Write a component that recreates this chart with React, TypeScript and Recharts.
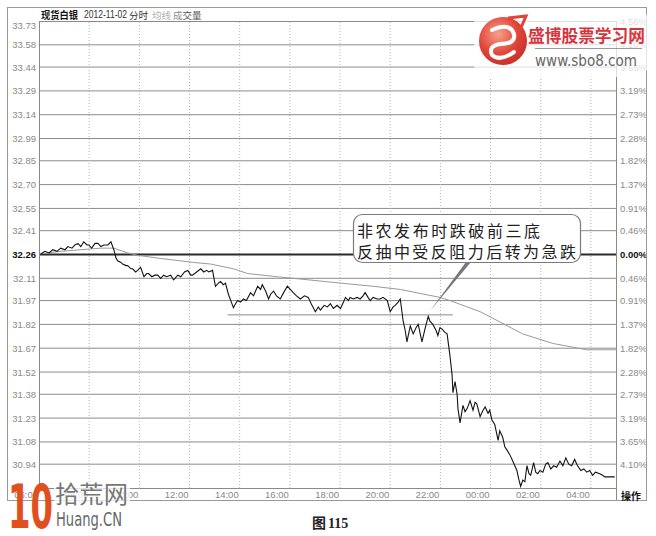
import React from 'react';
import { LineChart, Line, XAxis, YAxis, ReferenceLine } from 'recharts';

// ---- axis data ----
const basePrice = 32.26;
const priceTicks = [33.73, 33.58, 33.44, 33.29, 33.14, 32.99, 32.85, 32.7, 32.55, 32.41, 32.26, 32.11, 31.97, 31.82, 31.67, 31.52, 31.38, 31.23, 31.08, 30.94];
const pctLabels = ['4.56%', '4.10%', '3.65%', '3.19%', '2.73%', '2.28%', '1.82%', '1.37%', '0.91%', '0.46%', '0.00%', '0.46%', '0.91%', '1.37%', '1.82%', '2.28%', '2.73%', '3.19%', '3.65%', '4.10%'];
const priceDomain = [30.79, 33.73];
// minutes after 06:00
const timeTicks = [0, 120, 240, 360, 480, 600, 720, 840, 960, 1080, 1200, 1320];
const timeLabels = ['06:00', '08:00', '10:00', '12:00', '14:00', '16:00', '18:00', '20:00', '22:00', '00:00', '02:00', '04:00'];
const sessionLength = 1380;

// ---- price series (minutes after 06:00) ----
const priceTimes = [
  5, 14, 24, 33, 43, 52, 62, 69, 79, 86,
  93, 100, 107, 115, 119, 126, 134, 141, 148, 155,
  165, 172, 179, 184, 188, 196, 200, 208, 212, 220,
  224, 231, 236, 243, 251, 258, 262, 270, 277, 284,
  291, 298, 305, 315, 322, 332, 339, 348, 356, 363,
  367, 377, 387, 394, 401, 406, 415, 422, 429, 434,
  441, 446, 453, 460, 465, 470, 475, 482, 489, 496,
  506, 513, 523, 530, 534, 542, 549, 554, 561, 568,
  577, 585, 594, 601, 608, 616, 625, 635, 644, 651,
  661, 668, 673, 682, 690, 697, 704, 713, 721, 728,
  733, 740, 744, 752, 761, 768, 775, 780, 787, 792,
  799, 809, 816, 823, 833, 840, 847, 852, 859, 864,
  871, 876, 880, 888, 895, 902, 907, 911, 916, 923,
  931, 935, 942, 950, 954, 959, 964, 971, 976, 983,
  988, 990, 995, 1000, 1002, 1007, 1014, 1019, 1024, 1031,
  1038, 1043, 1047, 1055, 1062, 1067, 1074, 1078, 1083, 1090,
  1098, 1102, 1109, 1114, 1119, 1126, 1133, 1138, 1143, 1148,
  1152, 1157, 1162, 1167, 1172, 1176, 1183, 1188, 1193, 1198,
  1205, 1212, 1217, 1224, 1231, 1238, 1246, 1253, 1260, 1267,
  1274, 1281, 1288, 1296, 1303, 1310, 1317, 1324, 1331, 1341,
  1348, 1353, 1362, 1377,
];
const prices = [
  32.265, 32.28, 32.27, 32.29, 32.28, 32.3, 32.29, 32.31, 32.3, 32.32,
  32.33, 32.31, 32.34, 32.32, 32.32, 32.3, 32.33, 32.33, 32.31, 32.32,
  32.32, 32.34, 32.29, 32.24, 32.22, 32.21, 32.2, 32.19, 32.19, 32.17,
  32.17, 32.15, 32.16, 32.18, 32.12, 32.14, 32.14, 32.12, 32.13, 32.13,
  32.11, 32.13, 32.12, 32.13, 32.1, 32.13, 32.12, 32.15, 32.16, 32.13,
  32.13, 32.15, 32.17, 32.15, 32.16, 32.15, 32.16, 32.06, 32.08, 32.09,
  32.07, 32.08, 32.01, 31.96, 31.925, 31.95, 31.97, 31.96, 31.98, 31.97,
  32.02, 32.0, 32.06, 32.04, 32.07, 32.03, 31.98, 32.01, 32.03, 32.0,
  31.98, 32.02, 32.06, 32.04, 32.02, 32.0, 31.98, 32.0, 31.99, 31.95,
  31.9, 31.93, 31.91, 31.94, 31.93, 31.95, 31.92, 31.94, 31.92, 31.96,
  31.99, 31.97, 31.99, 31.98, 31.99, 31.98, 32.0, 32.02, 31.99, 31.97,
  31.99, 31.98, 31.98, 31.99, 31.97, 31.9, 31.93, 31.94, 31.96, 31.98,
  31.84, 31.78, 31.71, 31.81, 31.76, 31.8, 31.82, 31.77, 31.71, 31.79,
  31.87, 31.84, 31.82, 31.78, 31.75, 31.8, 31.79, 31.77, 31.76, 31.62,
  31.5, 31.39, 31.46, 31.38, 31.29, 31.2, 31.31, 31.27, 31.29, 31.34,
  31.28, 31.33, 31.32, 31.24, 31.28, 31.3, 31.26, 31.28, 31.22, 31.19,
  31.09, 31.15, 31.11, 31.05, 31.03, 31.0, 30.96, 30.93, 30.9, 30.84,
  30.8, 30.84, 30.83, 30.93, 30.88, 30.87, 30.95, 30.89, 30.88, 30.9,
  30.89, 30.94, 30.95, 30.91, 30.93, 30.92, 30.96, 30.93, 30.98, 30.94,
  30.93, 30.97, 30.93, 30.9, 30.91, 30.89, 30.9, 30.87, 30.89, 30.88,
  30.87, 30.86, 30.86, 30.86,
];

// ---- average price line ----
const avgTimes = [5, 52, 100, 148, 179, 212, 236, 291, 370, 410, 465, 499, 570, 608, 721, 799, 864, 959, 983, 1055, 1157, 1229, 1310, 1380];
const avgPrices = [32.265, 32.28, 32.29, 32.3, 32.3, 32.27, 32.255, 32.235, 32.21, 32.2, 32.17, 32.14, 32.12, 32.11, 32.08, 32.06, 32.04, 31.99, 31.97, 31.9, 31.76, 31.7, 31.66, 31.66];

// ---- support line ("前三底") ----
const supportLevel = 31.88;
const supportFrom = 451;
const supportTo = 990;

const calloutLines = ['非农发布时跌破前三底', '反抽中受反阻力后转为急跌'];

const priceData = priceTimes.map((t, i) => ({ t, p: prices[i] }));
const avgData = avgTimes.map((t, i) => ({ t, a: avgPrices[i] }));

const AXIS_FONT = '"Liberation Sans", Arial, sans-serif';
const CJK_FONT = '"Noto Sans CJK SC", "Noto Sans", sans-serif';

const LeftTick = (props: any) => {
  const { x, y, payload } = props;
  const v = payload.value as number;
  const isBase = Math.abs(v - basePrice) < 0.001;
  const dy = v === priceTicks[0] ? 4 : 0;
  return (
    <text x={x} y={y + dy} textAnchor="end" dominantBaseline="central" fontSize={9.5}
      fontFamily={AXIS_FONT} fill={isBase ? '#111' : '#8a8a8a'} fontWeight={isBase ? 'bold' : 'normal'}>
      {v.toFixed(2)}
    </text>
  );
};

const RightTick = (props: any) => {
  const { x, y, payload } = props;
  const v = payload.value as number;
  const idx = priceTicks.indexOf(v);
  const isBase = Math.abs(v - basePrice) < 0.001;
  return (
    <text x={x} y={y} textAnchor="start" dominantBaseline="central" fontSize={9.5}
      fontFamily={AXIS_FONT} fill={isBase ? '#111' : '#8a8a8a'} fontWeight={isBase ? 'bold' : 'normal'}>
      {pctLabels[idx]}
    </text>
  );
};

const TimeTick = (props: any) => {
  const { x, y, payload } = props;
  const idx = timeTicks.indexOf(payload.value);
  return (
    <text x={x - 1} y={y + 6} textAnchor="end" dominantBaseline="central" fontSize={9.5}
      fontFamily={AXIS_FONT} fill="#888">
      {timeLabels[idx]}
    </text>
  );
};

export default function App() {
  return (
    <div style={{ position: 'absolute', left: 0, top: 0, width: 656, height: 536, background: '#fff', overflow: 'hidden' }}>
      <div style={{ position: 'absolute', left: 0, top: 0 }}>
        <LineChart width={656} height={536} margin={{ top: 21, right: 0, bottom: 0, left: 0 }}>
          <XAxis dataKey="t" type="number" domain={[0, sessionLength]} ticks={timeTicks}
            axisLine={false} tickLine={false} tickSize={0} tickMargin={0} height={48}
            tick={<TimeTick />} interval={0} allowDataOverflow />
          <YAxis yAxisId="l" orientation="left" type="number" domain={priceDomain} ticks={priceTicks}
            width={39} axisLine={false} tickLine={false} tickSize={0} tickMargin={3}
            tick={<LeftTick />} interval={0} allowDataOverflow />
          <YAxis yAxisId="r" orientation="right" type="number" domain={priceDomain} ticks={priceTicks}
            width={40} axisLine={false} tickLine={false} tickSize={0} tickMargin={4}
            tick={<RightTick />} interval={0} allowDataOverflow />
          {priceTicks.filter((v) => v !== basePrice && v !== priceTicks[0]).map((v) => (
            <ReferenceLine key={'h' + v} yAxisId="l" y={v} stroke="#8c8c8c" strokeWidth={1} />
          ))}
          {timeTicks.slice(1).map((t) => (
            <ReferenceLine key={'v' + t} yAxisId="l" x={t} stroke="#b5b5b5" strokeWidth={1} strokeDasharray="1 2" />
          ))}
          <ReferenceLine yAxisId="l" y={basePrice} stroke="#2a2a2a" strokeWidth={1.8} />
          <ReferenceLine yAxisId="l" segment={[{ x: supportFrom, y: supportLevel }, { x: supportTo, y: supportLevel }]}
            stroke="#8a8a8a" strokeWidth={1} />
          <Line yAxisId="r" data={avgData} dataKey="a" type="linear" stroke="#9a9a9a" strokeWidth={1}
            dot={false} isAnimationActive={false} />
          <Line yAxisId="l" data={priceData} dataKey="p" type="linear" stroke="#141414" strokeWidth={1.1}
            dot={false} isAnimationActive={false} />
        </LineChart>
      </div>
      <svg width={656} height={536} style={{ position: 'absolute', left: 0, top: 0, pointerEvents: 'none' }}>
        {/* frames */}
        <rect x={7.5} y={7.5} width={639} height={493} fill="none" stroke="#9a9a9a" strokeWidth={1} />
        <rect x={39.5} y={21.5} width={577} height={467} fill="none" stroke="#8a8a8a" strokeWidth={1} />
        <line x1={616.5} y1={488} x2={616.5} y2={500} stroke="#8a8a8a" />
        <text x={631} y={495} textAnchor="middle" dominantBaseline="central" fontSize={10} fontWeight="bold"
          fontFamily={CJK_FONT} fill="#111">操作</text>
        {/* title */}
        <text x={41} y={14.5} dominantBaseline="central" fontSize={10} fontWeight="bold" fontFamily={CJK_FONT}
          fill="#111" textLength={37} lengthAdjust="spacingAndGlyphs">现货白银</text>
        <text x={84} y={14.5} dominantBaseline="central" fontSize={10} fontFamily={AXIS_FONT}
          fill="#333" textLength={43} lengthAdjust="spacingAndGlyphs">2012-11-02</text>
        <text x={129} y={14.5} dominantBaseline="central" fontSize={9.5} fontFamily={CJK_FONT} fill="#333">分时</text>
        <text x={152} y={14.5} dominantBaseline="central" fontSize={9.5} fontFamily={CJK_FONT} fill="#b0b0b0">均线</text>
        <text x={173} y={14.5} dominantBaseline="central" fontSize={9.5} fontFamily={CJK_FONT} fill="#555">
          <tspan fill="#8a8a8a">成</tspan>交量
        </text>
        {/* callout */}
        <path d="M 466 262 L 471 262 L 430 311 Z" fill="#777" />
        <rect x={353.5} y={214.5} width={227} height={48} rx={9} ry={9} fill="#fff" stroke="#7a7a7a" strokeWidth={1.2} />
        <text x={357} y={230} dominantBaseline="central" fontSize={16} fontFamily={CJK_FONT} fill="#222"
          textLength={183} lengthAdjust="spacing">{calloutLines[0]}</text>
        <text x={357} y={250.5} dominantBaseline="central" fontSize={16} fontFamily={CJK_FONT} fill="#222"
          textLength={219} lengthAdjust="spacing">{calloutLines[1]}</text>
        {/* top-right watermark */}
        <defs>
          <radialGradient id="lg" cx="0.4" cy="0.35" r="0.7">
            <stop offset="0" stopColor="#f7a08a" />
            <stop offset="0.6" stopColor="#e0443a" />
            <stop offset="1" stopColor="#c72f2c" />
          </radialGradient>
        </defs>
        <rect x={474} y={9} width={174} height={68} rx={12} fill="#fff" fillOpacity={0.72} />
        <circle cx={503} cy={41} r={24} fill="url(#lg)" />
        <path d="M 492 30 Q 510 22 514 34 Q 516 44 500 44 Q 488 46 492 55 Q 500 62 514 52"
          fill="none" stroke="#fff" strokeWidth={4} strokeLinecap="round" />
        <path d="M 508 18 L 526 16 L 520 30" fill="none" stroke="#e0443a" strokeWidth={3} />
        <text x={528} y={42} fontSize={17} fontWeight="bold" fontFamily={CJK_FONT} fill="#d8343c"
          textLength={117} lengthAdjust="spacingAndGlyphs">盛博股票学习网</text>
        <line x1={535} y1={48.5} x2={642} y2={48.5} stroke="#999" strokeWidth={1} />
        <text x={535} y={66} fontSize={15} fontFamily='"DejaVu Sans", sans-serif' fill="#666"
          textLength={102} lengthAdjust="spacingAndGlyphs">www.sbo8.com</text>
        {/* bottom-left watermark */}
        <rect x={54} y={482} width={76} height={47} fill="#fff" fillOpacity={0.75} />
        <text x={8} y={528} fontSize={60} fontWeight="bold" fontFamily='"DejaVu Sans", sans-serif' fill="#e0501e"
          textLength={45} lengthAdjust="spacingAndGlyphs">10</text>
        <text x={55} y={503} fontSize={24} fontFamily={CJK_FONT} fill="#777"
          textLength={73} lengthAdjust="spacingAndGlyphs">拾荒网</text>
        <text x={56} y={526} fontSize={19} fontFamily='"DejaVu Sans", sans-serif' fill="#666"
          textLength={66} lengthAdjust="spacingAndGlyphs">Huang.CN</text>
        {/* caption */}
        <text x={312} y={528} fontSize={14} fontWeight="bold" fontFamily={CJK_FONT} fill="#222">图</text>
        <text x={328} y={528} fontSize={14} fontWeight="bold" fontFamily='"Liberation Serif", serif' fill="#222">115</text>
      </svg>
    </div>
  );
}
